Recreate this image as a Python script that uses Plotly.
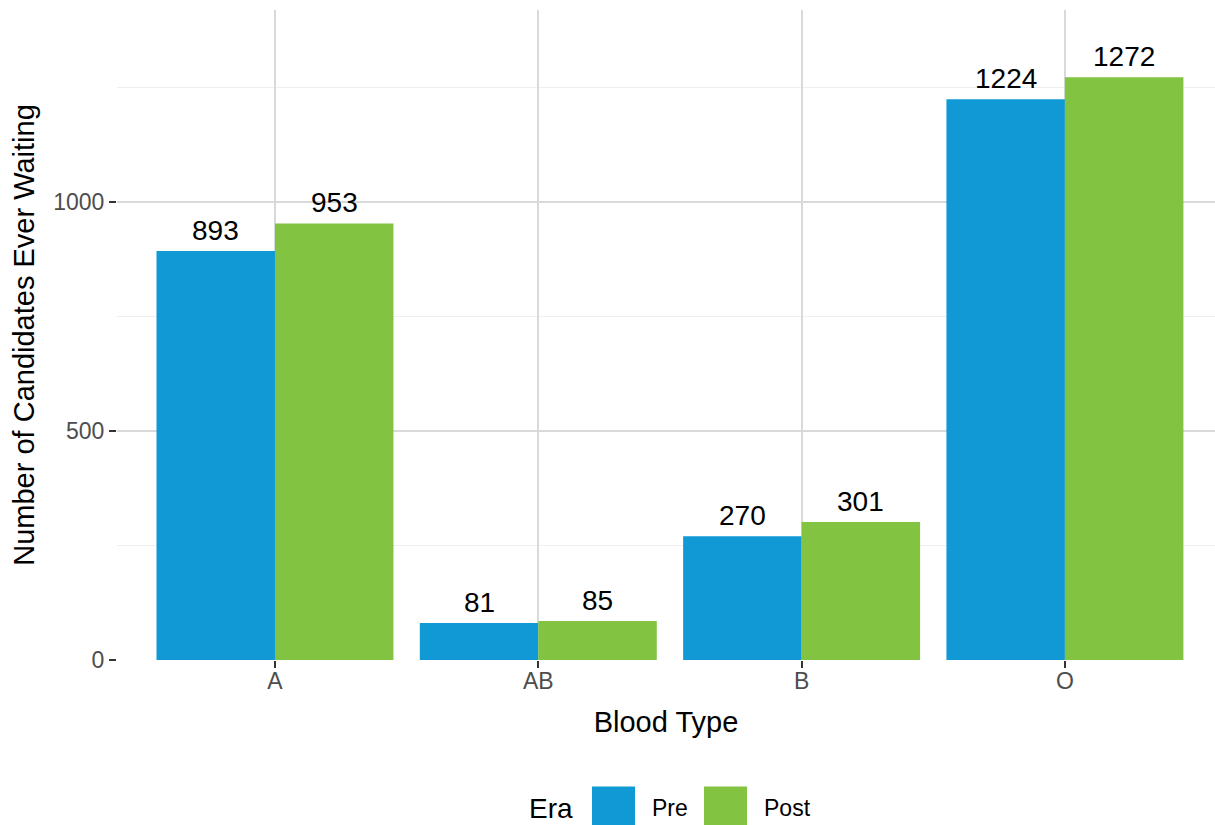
import plotly.graph_objects as go

blood_types = ["A", "AB", "B", "O"]
pre_counts = [893, 81, 270, 1224]
post_counts = [953, 85, 301, 1272]
era_names = ["Pre", "Post"]
era_colors = ["#1199D6", "#82C341"]
y_ticks = [0, 500, 1000]

W, H = 1215, 825
ML, MR, MT, MB = 117, 0, 10, 165
PW = W - ML - MR
PH = H - MT - MB
FONT = "Liberation Sans, Arial, Helvetica, sans-serif"

def px_x(px):
    return (px - ML) / PW

def px_y(py):
    return (H - MB - py) / PH

fig = go.Figure()
for name, vals, col in zip(era_names, [pre_counts, post_counts], era_colors):
    fig.add_trace(go.Bar(x=blood_types, y=vals, name=name, marker_color=col,
                         marker_line_width=0, showlegend=False))

bargap = 0.1
half = (1 - bargap) / 4
annotations = []
for i, bt in enumerate(blood_types):
    for j, vals in enumerate([pre_counts, post_counts]):
        off = -half if j == 0 else half
        annotations.append(dict(x=i + off, y=vals[i], xref="x", yref="y",
                                text=str(vals[i]), showarrow=False,
                                yanchor="bottom", xanchor="center", yshift=3,
                                font=dict(family=FONT, size=28, color="black")))

# manual legend (ggplot-style large keys)
leg_y = 808
annotations.append(dict(x=px_x(575), y=px_y(leg_y), xref="paper", yref="paper",
                        text="Era", showarrow=False, xanchor="right", yanchor="middle",
                        font=dict(family=FONT, size=28, color="black")))
shapes = []
key_specs = [(592, 650), (704, 762)]
for (kx, tx), name, col in zip(key_specs, era_names, era_colors):
    shapes.append(dict(type="rect", xref="paper", yref="paper",
                       x0=px_x(kx), x1=px_x(kx + 43), y0=px_y(leg_y - 21.5), y1=px_y(leg_y + 21.5),
                       fillcolor=col, line_width=0, layer="above"))
    annotations.append(dict(x=px_x(tx), y=px_y(leg_y), xref="paper", yref="paper",
                            text=name, showarrow=False, xanchor="left", yanchor="middle",
                            font=dict(family=FONT, size=23, color="black")))

fig.update_layout(
    width=W, height=H,
    margin=dict(l=ML, r=MR, t=MT, b=MB, pad=0),
    paper_bgcolor="white", plot_bgcolor="white",
    barmode="group", bargap=bargap, bargroupgap=0,
    font=dict(family=FONT, color="black"),
    annotations=annotations, shapes=shapes,
    showlegend=False,
)
fig.update_xaxes(
    type="category", range=[-0.6, 3.57],
    showgrid=True, gridcolor="#D9D9D9", gridwidth=2,
    ticks="outside", ticklen=7, tickwidth=2, tickcolor="#333333",
    ticklabelstandoff=-7,
    tickfont=dict(family=FONT, size=23, color="#4D4D4D"),
    showline=False, zeroline=False,
    title=dict(text="Blood Type", font=dict(family=FONT, size=29, color="black"), standoff=19),
)
fig.update_yaxes(
    range=[0, 1419], tickvals=y_ticks,
    showgrid=True, gridcolor="#D9D9D9", gridwidth=2,
    minor=dict(dtick=250, tick0=0, showgrid=True, gridcolor="#EFEFEF", gridwidth=1, ticks=""),
    ticks="outside", ticklen=7, tickwidth=2, tickcolor="#333333",
    ticklabelstandoff=0,
    tickfont=dict(family=FONT, size=23, color="#4D4D4D"),
    showline=False, zeroline=False,
    title=dict(text="Number of Candidates Ever Waiting", font=dict(family=FONT, size=29, color="black"), standoff=10),
)
fig.write_html("out.html", config={"displayModeBar": False})

with open("out.html", "r", encoding="utf-8") as f:
    html = f.read()
html = html.replace("<head>", "<head><style>html,body{margin:0;padding:0;overflow:hidden;}</style>", 1)
with open("out.html", "w", encoding="utf-8") as f:
    f.write(html)
